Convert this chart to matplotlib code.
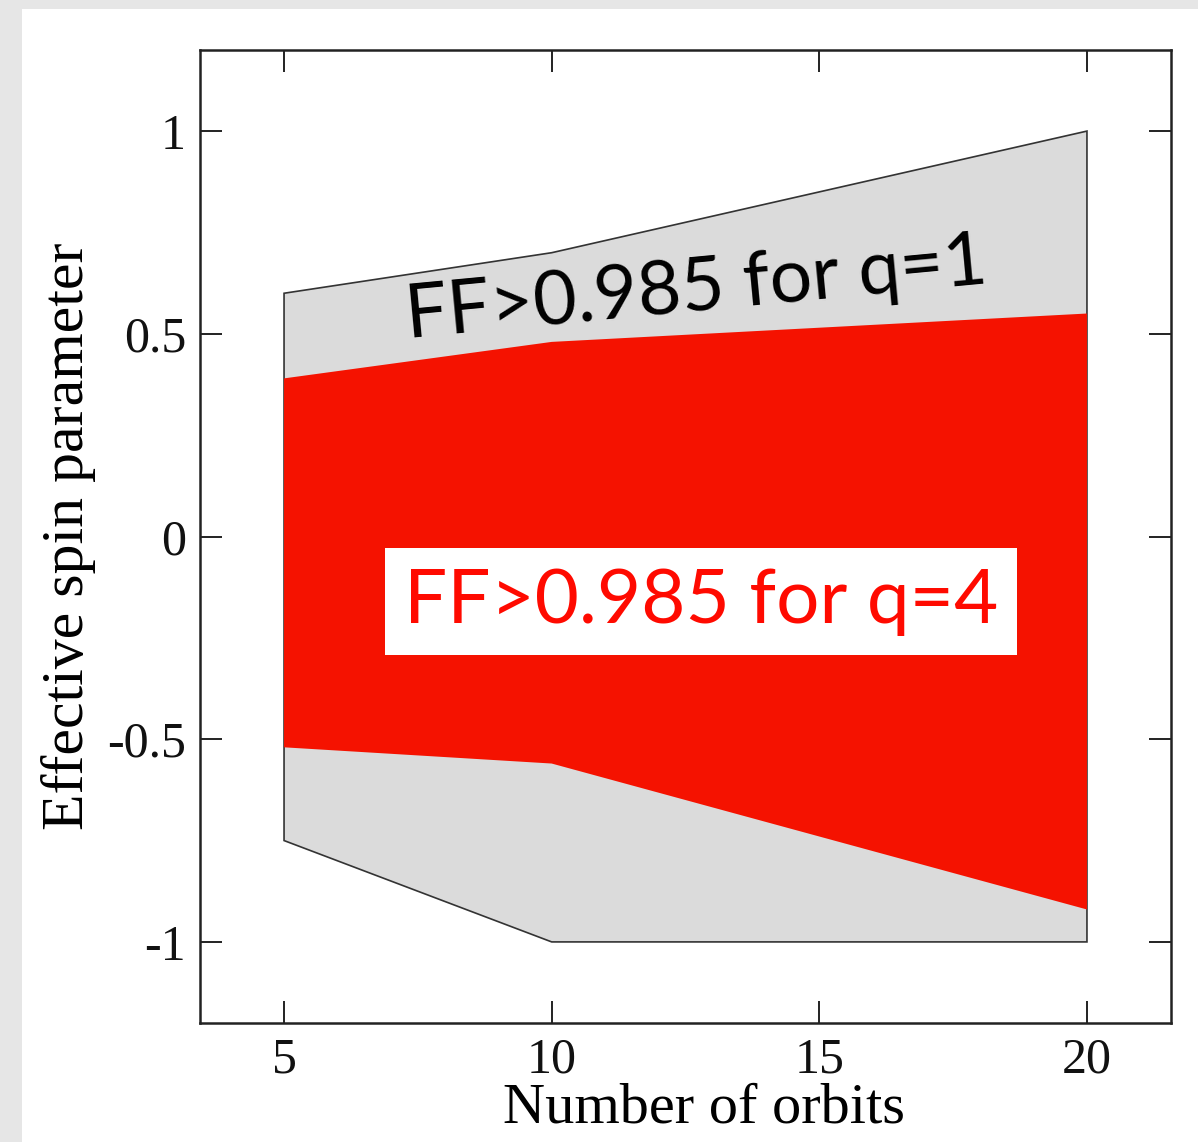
import numpy as np
import matplotlib.pyplot as plt
from matplotlib.patches import Rectangle

# datos
orbitas = [5, 10, 20]
q1_arriba = [0.60, 0.70, 1.00]
q1_abajo = [-0.75, -1.00, -1.00]
q4_arriba = [0.39, 0.48, 0.55]
q4_abajo = [-0.52, -0.56, -0.92]

xticks = [5, 10, 15, 20]
yticks = [-1, -0.5, 0, 0.5, 1]
yticklabels = ["-1", "-0.5", "0", "0.5", "1"]

serif = ["Liberation Serif", "DejaVu Serif"]
sans = ["Lato", "DejaVu Sans"]

fig = plt.figure(figsize=(11.98, 11.42), dpi=100, facecolor="#e6e6e6")
# panel blanco detras de todo
fondo = Rectangle((22 / 1198, 0), 1 - 22 / 1198, 1 - 9 / 1142,
                  transform=fig.transFigure, facecolor="white",
                  edgecolor="none", zorder=-10)
fig.add_artist(fondo)

ax = fig.add_axes([200 / 1198, 1 - 1023 / 1142, 971 / 1198, 973 / 1142])
ax.set_facecolor("white")

# region gris q=1
xs = orbitas + orbitas[::-1]
ys = q1_arriba + q1_abajo[::-1]
ax.fill(xs, ys, facecolor="#dbdbdb", edgecolor="#333333", linewidth=1.2, zorder=1)

# region roja q=4
ax.fill_between(orbitas, q4_abajo, q4_arriba, facecolor="#f51200",
                edgecolor="none", zorder=2)

ax.set_xlim(3.43, 21.57)
ax.set_ylim(-1.2, 1.2)
ax.set_xticks(xticks)
ax.set_yticks(yticks)
ax.set_yticklabels(yticklabels)

for s in ax.spines.values():
    s.set_linewidth(1.8)
    s.set_color("#222222")

ax.tick_params(direction="in", length=16, width=1.4, top=True, right=True,
               colors="#222222")
ax.tick_params(axis="x", pad=10)
ax.tick_params(axis="y", pad=10)
for lab in ax.get_xticklabels() + ax.get_yticklabels():
    lab.set_family(serif)
    lab.set_fontsize(36)
    lab.set_color("#111111")

ax.set_xlabel("Number of orbits", family=serif, fontsize=42)
ax.xaxis.set_label_coords(0.519, -0.061, transform=ax.transAxes)
ax.xaxis.label.set_va("top")
ax.set_ylabel("Effective spin parameter", family=serif, fontsize=43, labelpad=8)

ax.text(12.7, 0.61, "FF>0.985 for q=1", family=sans, fontsize=54,
        rotation=5.4, ha="center", va="center", color="black", zorder=3)
ax.text(12.79, -0.16, "FF>0.985 for q=4", family=sans, fontsize=55,
        ha="center", va="center", color="#ff0a00", zorder=3,
        bbox=dict(facecolor="white", edgecolor="none", pad=14))

fig.savefig("out.png", dpi=100, facecolor=fig.get_facecolor())
